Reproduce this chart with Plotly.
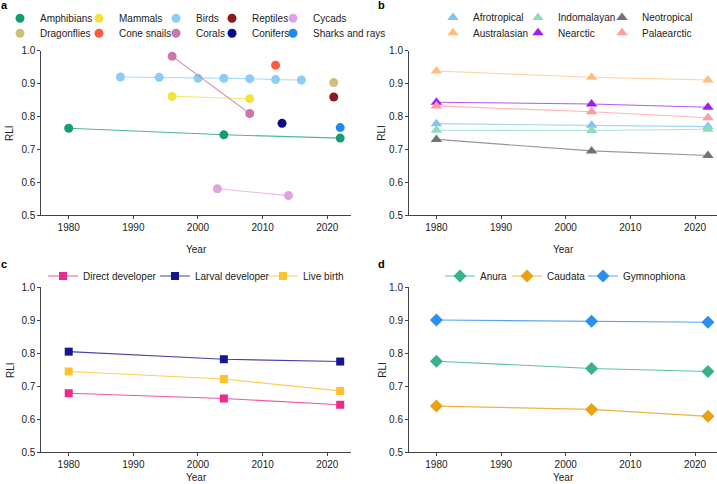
import plotly.graph_objects as go

W, H = 717, 484
FONT = "Liberation Sans, Arial, sans-serif"
TXT = "#222222"

# ---------------- data ----------------
# panel a: taxonomic groups
amph_years = [1980, 2004, 2022]
amph_rli = [0.764, 0.744, 0.734]
birds_years = [1988, 1994, 2000, 2004, 2008, 2012, 2016]
birds_rli = [0.920, 0.919, 0.916, 0.916, 0.915, 0.912, 0.911]
mammals_years = [1996, 2008]
mammals_rli = [0.861, 0.854]
corals_years = [1996, 2008]
corals_rli = [0.983, 0.809]
cycads_years = [2003, 2014]
cycads_rli = [0.580, 0.559]
cone_years = [2012]
cone_rli = [0.956]
dragon_years = [2021]
dragon_rli = [0.903]
reptiles_years = [2021]
reptiles_rli = [0.859]
conifers_years = [2013]
conifers_rli = [0.779]
sharks_years = [2022]
sharks_rli = [0.766]

# panel b: realms
realm_years = [1980, 2004, 2022]
afrotropical = [0.778, 0.773, 0.769]
australasian = [0.938, 0.919, 0.911]
indomalayan = [0.758, 0.757, 0.761]
nearctic = [0.843, 0.838, 0.828]
neotropical = [0.730, 0.695, 0.681]
palaearctic = [0.832, 0.814, 0.796]

# panel c: reproductive mode
mode_years = [1980, 2004, 2022]
direct_dev = [0.679, 0.663, 0.644]
larval_dev = [0.805, 0.782, 0.775]
live_birth = [0.745, 0.722, 0.686]

# panel d: orders
order_years = [1980, 2004, 2022]
anura = [0.776, 0.754, 0.745]
caudata = [0.640, 0.630, 0.609]
gymnophiona = [0.901, 0.897, 0.894]

x_ticks = [1980, 1990, 2000, 2010, 2020]
y_ticks = [0.5, 0.6, 0.7, 0.8, 0.9, 1.0]

# ---------------- layout helpers ----------------
def fx(px):
    return px / W

def fy(py):
    return 1 - py / H

def rgba(hexc, a):
    h = hexc.lstrip("#")
    return "rgba(%d,%d,%d,%.2f)" % (int(h[0:2], 16), int(h[2:4], 16), int(h[4:6], 16), a)

fig = go.Figure()
legend_layouts = {}
leg_counter = [0]

def new_legend(x_px, y_px):
    leg_counter[0] += 1
    name = "legend" if leg_counter[0] == 1 else "legend%d" % leg_counter[0]
    legend_layouts[name] = dict(
        x=fx(x_px), y=fy(y_px), xanchor="left", yanchor="middle",
        orientation="v", bgcolor="rgba(0,0,0,0)", borderwidth=0,
        font=dict(family=FONT, size=10, color=TXT), itemsizing="trace",
    )
    return name

def add_split(xs, ys, name, color, symbol, size, xa, ya, leg_x, leg_y):
    # line (no legend) + markers (legend, symbol only)
    if len(xs) > 1:
        fig.add_trace(go.Scatter(x=xs, y=ys, mode="lines", showlegend=False,
                                 line=dict(color=rgba(color, 0.75), width=1.1),
                                 xaxis=xa, yaxis=ya, hoverinfo="skip"))
    lg = new_legend(leg_x, leg_y)
    fig.add_trace(go.Scatter(x=xs, y=ys, mode="markers", name=name, legend=lg,
                             marker=dict(color=color, symbol=symbol, size=size),
                             xaxis=xa, yaxis=ya, cliponaxis=False))

def add_full(xs, ys, name, color, symbol, size, xa, ya, leg_x, leg_y):
    lg = new_legend(leg_x, leg_y)
    fig.add_trace(go.Scatter(x=xs, y=ys, mode="lines+markers", name=name, legend=lg,
                             line=dict(color=rgba(color, 0.8), width=1.1),
                             marker=dict(color=color, symbol=symbol, size=size),
                             xaxis=xa, yaxis=ya, cliponaxis=False))

# ---------------- panel a ----------------
r1, r2 = 18.3, 33.3
add_split(amph_years, amph_rli, "Amphibians", "#169c72", "circle", 9, "x", "y", 0, r1)
add_split(dragon_years, dragon_rli, "Dragonflies", "#cbc27a", "circle", 9, "x", "y", 0, r2)
add_split(mammals_years, mammals_rli, "Mammals", "#f2e23e", "circle", 9, "x", "y", 79, r1)
add_split(cone_years, cone_rli, "Cone snails", "#ff5a3a", "circle", 9, "x", "y", 79, r2)
add_split(birds_years, birds_rli, "Birds", "#8ccdf4", "circle", 9, "x", "y", 156, r1)
add_split(corals_years, corals_rli, "Corals", "#c978aa", "circle", 9, "x", "y", 156, r2)
add_split(reptiles_years, reptiles_rli, "Reptiles", "#8c1c1c", "circle", 9, "x", "y", 212, r1)
add_split(conifers_years, conifers_rli, "Conifers", "#0a0a8c", "circle", 9, "x", "y", 212, r2)
add_split(cycads_years, cycads_rli, "Cycads", "#e2a2e0", "circle", 9, "x", "y", 273, r1)
add_split(sharks_years, sharks_rli, "Sharks and rays", "#2389ee", "circle", 9, "x", "y", 273, r2)

# ---------------- panel b ----------------
b1, b2 = 17.5, 32.7
add_split(realm_years, afrotropical, "Afrotropical", "#80c4f0", "triangle-up", 10, "x2", "y2", 433, b1)
add_split(realm_years, australasian, "Australasian", "#ffbf78", "triangle-up", 10, "x2", "y2", 433, b2)
add_split(realm_years, indomalayan, "Indomalayan", "#8fdcbf", "triangle-up", 10, "x2", "y2", 518, b1)
add_split(realm_years, nearctic, "Nearctic", "#a21ef0", "triangle-up", 10, "x2", "y2", 518, b2)
add_split(realm_years, neotropical, "Neotropical", "#737373", "triangle-up", 10, "x2", "y2", 602, b1)
add_split(realm_years, palaearctic, "Palaearctic", "#ff9c9c", "triangle-up", 10, "x2", "y2", 602, b2)

# ---------------- panel c ----------------
c1 = 276
add_full(mode_years, direct_dev, "Direct developer", "#ea2a8c", "square", 8, "x3", "y3", 43, c1)
add_full(mode_years, larval_dev, "Larval developer", "#16168e", "square", 8, "x3", "y3", 155, c1)
add_full(mode_years, live_birth, "Live birth", "#ffc12c", "square", 8, "x3", "y3", 263, c1)

# ---------------- panel d ----------------
add_full(order_years, anura, "Anura", "#35b48a", "diamond", 10, "x4", "y4", 440, c1)
add_full(order_years, caudata, "Caudata", "#e9a112", "diamond", 10, "x4", "y4", 507, c1)
add_full(order_years, gymnophiona, "Gymnophiona", "#2a8ef2", "diamond", 10, "x4", "y4", 583, c1)

# ---------------- axes ----------------
ax_common = dict(showline=True, linecolor="#444444", linewidth=1, ticks="outside",
                 ticklen=3, tickwidth=1, tickcolor="#444444", showgrid=False, zeroline=False,
                 tickfont=dict(family=FONT, size=10, color=TXT))

xl_left = [fx(41.3), fx(351)]
xl_right = [fx(409), 1.0]
y_top = [fy(215), fy(50.7)]
y_bot = [fy(452.3), fy(287.3)]
xr_left = [1975.76, 2023.67]
xr_right = [1975.76, 1975.76 + (717 - 409) / 6.465]

layout_axes = {}
for i, (xd, yd, xr) in enumerate([(xl_left, y_top, xr_left), (xl_right, y_top, xr_right),
                                   (xl_left, y_bot, xr_left), (xl_right, y_bot, xr_right)]):
    sfx = "" if i == 0 else str(i + 1)
    layout_axes["xaxis" + sfx] = dict(ax_common, domain=xd, range=xr, tickvals=x_ticks,
                                      anchor="y" + sfx)
    layout_axes["yaxis" + sfx] = dict(ax_common, domain=yd, range=[0.5, 1.0], tickvals=y_ticks,
                                      tickformat=".1f", anchor="x" + sfx)

annotations = []
def ann(text, x_px, y_px, size=10, bold=False, angle=0):
    annotations.append(dict(text=("<b>%s</b>" % text) if bold else text, x=fx(x_px), y=fy(y_px),
                            xref="paper", yref="paper", showarrow=False, textangle=angle,
                            xanchor="center", yanchor="middle",
                            font=dict(family=FONT, size=size, color="#000000" if bold else TXT)))

ann("a", 4, 4.5, size=11, bold=True)
ann("b", 381.5, 4.5, size=11, bold=True)
ann("c", 4, 264, size=11, bold=True)
ann("d", 381.5, 264, size=11, bold=True)
ann("RLI", 10, 133, angle=-90)
ann("RLI", 381.7, 133, angle=-90)
ann("RLI", 10, 370, angle=-90)
ann("RLI", 381.7, 370, angle=-90)
ann("Year", 196, 249)
ann("Year", 563, 249)
ann("Year", 196, 477.5)
ann("Year", 563, 477.5)

fig.update_layout(width=W, height=H, margin=dict(l=0, r=0, t=0, b=0, pad=0, autoexpand=False),
                  paper_bgcolor="white", plot_bgcolor="white",
                  font=dict(family=FONT, size=10, color=TXT),
                  annotations=annotations, **layout_axes, **legend_layouts)

fig.write_html("out.html", config={"displayModeBar": False},
               post_script="document.body.style.margin='0';document.body.style.overflow='hidden';")
